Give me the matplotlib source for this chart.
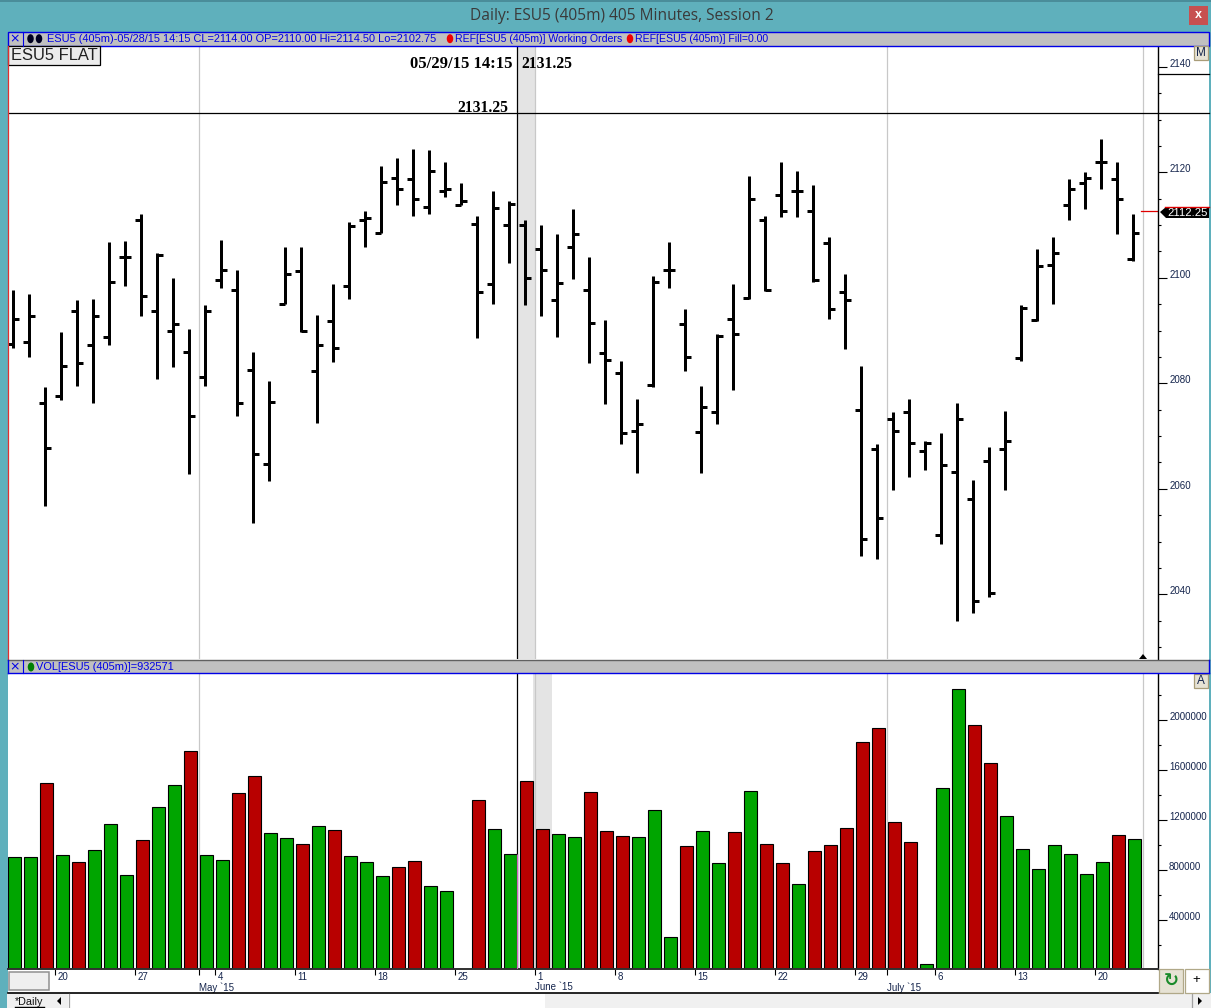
import matplotlib
matplotlib.use("Agg")
import matplotlib.pyplot as plt
from matplotlib.patches import Rectangle, Polygon, Ellipse
from matplotlib.ticker import MultipleLocator

opens = [2087.5, 2087.75, 2076.25, 2077.5, 2093.75, 2087.25, 2088.75, 2104, 2111, 2093.75, 2090, 2086, 2081.25, 2099.5, 2097.75, 2082.5, 2064.75, 2095, 2101.25, 2082.25, 2091.75, 2098.5, 2111, 2108.5, 2119,
         2118.75, 2113.5, 2116.5, 2113.75, 2110.25, 2098.75, 2110, 2110, 2105.5, 2095.75, 2105.75, 2097.75, 2085.75, 2082, 2071, 2079.75, 2101.5, 2091.25, 2070.75, 2074.5, 2092.25, 2096.25, 2111, 2115.75, 2116.5,
         2112.75, 2106.5, 2097.25, 2075, 2067.5, 2073.25, 2074.5, 2067.25, 2051.25, 2063.25, 2058, 2065.25, 2067.5, 2084.75, 2092, 2102.5, 2113.75, 2118, 2122, 2118.75, 2103.5]
highs = [2097.75, 2097, 2079.25, 2089.75, 2095.75, 2096, 2106.75, 2107, 2112, 2104.75, 2100, 2090.25, 2094.75, 2107.25, 2101.5, 2086, 2080.5, 2105.75, 2105.75, 2093, 2098.75, 2110.5, 2112.75, 2121.25, 2122.75,
         2124.5, 2124.25, 2122, 2118, 2111.75, 2116.5, 2114.5, 2111, 2110, 2108.25, 2113, 2104, 2092, 2084.25, 2077, 2100.25, 2106.75, 2094, 2079.5, 2089.25, 2098.75, 2119.25, 2111.75, 2122, 2120.25,
         2117.5, 2107.75, 2100.75, 2083.25, 2068.5, 2074.5, 2077, 2069, 2070.5, 2076.25, 2061.75, 2068, 2074.75, 2094.75, 2105.5, 2107.75, 2118.75, 2120, 2126.25, 2122, 2112]
lows = [2086.75, 2085, 2056.75, 2076.75, 2079.5, 2076.25, 2087.25, 2098.5, 2092.75, 2080.75, 2083, 2062.75, 2079.5, 2098, 2073.75, 2053.5, 2061.5, 2095, 2089.75, 2072.5, 2084, 2096, 2105.75, 2108.5, 2113.75,
        2111.75, 2112, 2115.25, 2113.75, 2088.5, 2095, 2102.75, 2094.75, 2092.75, 2088.75, 2099.75, 2083.75, 2076, 2068.5, 2063, 2079.25, 2098, 2082.25, 2063, 2072.25, 2078.75, 2096, 2097.5, 2111.5, 2111.5,
        2099.25, 2092.25, 2086.5, 2047.25, 2046.75, 2059.75, 2062.25, 2063.5, 2049.5, 2035, 2036.5, 2039.5, 2059.75, 2084.25, 2091.75, 2095, 2111, 2113, 2116.75, 2108.25, 2103.25]
closes = [2092.25, 2092.75, 2067.75, 2083.25, 2083.75, 2092.75, 2099.25, 2104, 2096.5, 2104.25, 2091.25, 2073.75, 2093.75, 2101.5, 2076.25, 2066.5, 2076.5, 2100.75, 2090, 2087.25, 2086.75, 2109.75, 2111.25, 2118.25, 2116.75,
          2115, 2120.25, 2116.75, 2114.5, 2097.25, 2113.25, 2114, 2100, 2101.5, 2099, 2108.25, 2091.5, 2084.5, 2070.5, 2072.25, 2099.25, 2101.5, 2085, 2075.5, 2089, 2089.25, 2115, 2097.75, 2112.75, 2116.5,
          2099.5, 2094, 2095.75, 2050.5, 2054.5, 2071, 2068.75, 2068.75, 2064.5, 2073.25, 2038.75, 2040.25, 2069, 2094.25, 2102.25, 2104.75, 2116.75, 2119, 2122, 2115, 2108.5]
volumes = [904000, 904000, 1496000, 920000, 864000, 960000, 1168000, 760000, 1040000, 1304000, 1480000, 1752000, 920000, 880000, 1416000, 1552000, 1096000, 1056000, 1008000, 1152000, 1120000, 912000, 864000, 752000, 824000,
           872000, 672000, 632000, 0, 1360000, 1128000, 932571, 1512000, 1128000, 1088000, 1064000, 1424000, 1112000, 1072000, 1064000, 1280000, 264000, 992000, 1112000, 856000, 1104000, 1432000, 1008000, 856000, 688000,
           952000, 1000000, 1136000, 1824000, 1936000, 1184000, 1024000, 48000, 1456000, 2248000, 1960000, 1656000, 1232000, 968000, 808000, 1000000, 928000, 768000, 864000, 1080000, 1048000]

# bar index of each labelled date tick
date_ticks = [3, 8, 13, 18, 23, 28, 33, 38, 43, 48, 53, 58, 63, 68]
date_labels = ["20", "27", "4", "11", "18", "25", "1", "8", "15", "22", "29", "6", "13", "20"]
month_starts = [12, 33, 55]
month_labels = ["May `15", "June `15", "July `15"]
last_session = 71

W, H = 1211, 1008
TEAL = "#5fb0bc"
GREEN = "#00a500"
RED = "#b80000"
BLUE = "#0000e6"
STRIP = "#c0c0c0"
LABEL = "#14244c"
FONT = "Liberation Sans"
idx = list(range(len(opens)))
TICK_SHIFT = 0.37  # date boundaries sit just left of a bar
CURSOR = 31.45


def px_axes(left, top, right, bottom, **kw):
    return fig.add_axes([left / W, 1 - bottom / H, (right - left) / W, (bottom - top) / H], **kw)


fig = plt.figure(figsize=(W / 100, H / 100), dpi=100, facecolor=TEAL)

# background chrome in pixel coordinates
base = fig.add_axes([0, 0, 1, 1], zorder=0)
base.set_xlim(0, W)
base.set_ylim(H, 0)
base.axis("off")
base.add_patch(Rectangle((0, 0), W, 1.5, fc="#4a8d9a", lw=0))
base.add_patch(Rectangle((8, 46), 1201, 947, fc="white", lw=0))
base.add_patch(Rectangle((7, 993), 1204, 15, fc="#f0f0f0", lw=0))

# price panel
ax = px_axes(8, 46, 1158, 659, zorder=1)
ax.set_xlim(-0.33, 71.54)
ax.set_ylim(2027.73, 2143.94)
for s in ["top", "left", "bottom"]:
    ax.spines[s].set_visible(False)
ax.spines["right"].set_linewidth(1.0)
ax.set_xticks([])
ax.yaxis.tick_right()
ax.yaxis.set_major_locator(MultipleLocator(20))
ax.yaxis.set_minor_locator(MultipleLocator(5))
ax.tick_params(axis="y", which="major", length=6.5, width=0.8, pad=1.5, labelsize=7, labelcolor=LABEL)
ax.tick_params(axis="y", which="minor", length=2.2, width=0.8)
for lab in ax.get_yticklabels():
    lab.set_va("baseline")
    lab.set_fontfamily(FONT)

ax.axvspan(CURSOR, 33 - TICK_SHIFT, color="#e4e4e4", lw=0, zorder=0)
for m in month_starts + [last_session]:
    ax.axvline(m - TICK_SHIFT, color="#c8c8c8", lw=0.9, zorder=1)
ax.axvline(CURSOR, color="black", lw=0.9, zorder=1)
ax.axhline(2131.25, color="black", lw=0.9, zorder=1)

ax.vlines(idx, lows, highs, color="black", lw=2.16, capstyle="butt", zorder=3)
ax.hlines(opens, [i - 0.38 for i in idx], idx, color="black", lw=2.16, capstyle="butt", zorder=3)
ax.hlines(closes, idx, [i + 0.36 for i in idx], color="black", lw=2.16, capstyle="butt", zorder=3)
ax.axhline(2112.6, xmin=0.9855, color="#e00000", lw=0.9, zorder=2)

# volume panel
vol = px_axes(8, 674, 1158, 969, zorder=1)
vol.set_xlim(-0.33, 71.54)
vol.set_ylim(10400, 2370400)
for s in ["top", "left"]:
    vol.spines[s].set_visible(False)
vol.spines["right"].set_linewidth(1.0)
vol.spines["bottom"].set_linewidth(1.4)
vol.spines["bottom"].set_color("#303030")
vol.yaxis.tick_right()
vol.yaxis.set_major_locator(MultipleLocator(400000))
vol.yaxis.set_minor_locator(MultipleLocator(200000))
vol.tick_params(axis="y", which="major", length=6.5, width=0.8, pad=1.5, labelsize=7, labelcolor=LABEL)
vol.tick_params(axis="y", which="minor", length=2.2, width=0.8)
vol.ticklabel_format(axis="y", style="plain")
vol.set_yticks([400000, 800000, 1200000, 1600000, 2000000])
vol.set_yticklabels(["400000", "800000", "1200000", "1600000", "2000000"], va="baseline", fontfamily=FONT)

vol.axvspan(32.5, 33.67, color="#e4e4e4", lw=0, zorder=0)
for m in month_starts + [last_session]:
    vol.axvline(m - TICK_SHIFT, color="#c8c8c8", lw=0.9, zorder=1)
vol.axvline(CURSOR, color="black", lw=0.9, zorder=1)
colors = [GREEN if c >= o else RED for o, c in zip(opens, closes)]
vol.bar([i + 0.07 for i in idx], volumes, width=0.84, color=colors, edgecolor="black", lw=0.8, zorder=2)
vol.vlines(CURSOR, 0, volumes[31], color="#d060c0", lw=0.8, zorder=3)

tick_pos = [t - TICK_SHIFT for t in date_ticks + month_starts[:1] + month_starts[2:]]
vol.set_xticks(tick_pos)
vol.set_xticklabels([])
vol.tick_params(axis="x", length=4.3, width=0.8, direction="out")
for t, lab in zip(date_ticks, date_labels):
    vol.annotate(lab, (t - TICK_SHIFT, 0), xycoords=("data", "axes fraction"), xytext=(1.4, -2.4), textcoords="offset points",
                 va="top", ha="left", fontsize=7, color=LABEL, family=FONT)
for m, lab in zip(month_starts, month_labels):
    vol.annotate(lab, (m - TICK_SHIFT, 0), xycoords=("data", "axes fraction"), xytext=(0, -9.6), textcoords="offset points",
                 va="top", ha="left", fontsize=7, color=LABEL, family=FONT)

# window chrome and headers on top
top = fig.add_axes([0, 0, 1, 1], zorder=2)
top.set_xlim(0, W)
top.set_ylim(H, 0)
top.axis("off")
top.patch.set_alpha(0)

top.text(622, 15.5, "Daily: ESU5 (405m) 405 Minutes, Session 2", ha="center", va="center", fontsize=11.2,
         color="#3a3a3a", family="Open Sans")
top.add_patch(Rectangle((1189, 6), 18.5, 19, fc="#c75050", lw=0))
top.text(1198.2, 15.5, "x", ha="center", va="center", color="white", fontsize=9, fontweight="bold", family=FONT)
top.plot([7.5, 7.5], [46, 660], color="#e03030", lw=0.9)

# price header strip
top.add_patch(Rectangle((8, 32), 1201, 13.5, fc=STRIP, ec=BLUE, lw=1))
top.plot([22.5, 22.5], [32, 45.5], color=BLUE, lw=0.8)
top.text(15, 38.7, "\u00d7", ha="center", va="center", color=BLUE, fontsize=9, family="DejaVu Sans")
top.add_patch(Ellipse((30.5, 38.7), 6.5, 9, fc="#000020", lw=0))
top.add_patch(Ellipse((39, 38.7), 6.5, 9, fc="#000020", lw=0))
top.text(47, 38.9, "ESU5 (405m)-05/28/15 14:15 CL=2114.00 OP=2110.00 Hi=2114.50 Lo=2102.75", va="center", color=BLUE,
         fontsize=7.96, family=FONT)
top.add_patch(Ellipse((450, 38.7), 6.5, 9, fc="#f00000", lw=0))
top.text(455, 38.9, "REF[ESU5 (405m)] Working Orders", va="center", color=BLUE, fontsize=7.55, family=FONT)
top.add_patch(Ellipse((630, 38.7), 6.5, 9, fc="#f00000", lw=0))
top.text(635, 38.9, "REF[ESU5 (405m)] Fill=0.00", va="center", color=BLUE, fontsize=7.55, family=FONT)

top.add_patch(Rectangle((8, 46), 92, 18.5, fc="#ececec", ec="black", lw=0.9))
top.text(11, 55.5, "ESU5 FLAT", va="center", fontsize=11.9, color="#202020", family=FONT)
top.text(513, 64, "05/29/15 14:15", ha="right", va="center", fontsize=12, fontweight="bold", family="Liberation Serif")
top.text(521, 64, "2131.25", ha="left", va="center", fontsize=11.3, fontweight="bold", family="Liberation Serif")
top.text(508, 107.5, "2131.25", ha="right", va="center", fontsize=11.3, fontweight="bold", family="Liberation Serif")
top.plot([1158, 1209], [74, 74], color="black", lw=0.9)
top.plot([1158, 1209], [113, 113], color="black", lw=0.9)

for x0, y0, lab in [(1194, 46, "M"), (1194, 674, "A")]:
    top.add_patch(Rectangle((x0, y0), 13.5, 13.5, fc="#e6e2d4", ec="#a89c78", lw=0.9))
    top.text(x0 + 6.7, y0 + 7, lab, ha="center", va="center", fontsize=8.5, color="#14244c", family=FONT)

# last price flag
top.add_patch(Polygon([(1160, 212), (1166, 207), (1209, 207), (1209, 218), (1166, 218)], fc="black", lw=0))
top.plot([1165, 1209], [206.7, 206.7], color="#e00000", lw=1)
top.text(1208, 212.9, "2112.25", ha="right", va="center", fontsize=8.2, color="white", family=FONT)
top.add_patch(Polygon([(1139, 659), (1143, 654), (1147, 659)], fc="black", lw=0))

# volume header strip
top.add_patch(Rectangle((8, 660), 1201, 13, fc=STRIP, lw=0))
top.plot([8, 1209], [659.7, 659.7], color="#606060", lw=1)
top.plot([8, 1209], [673.3, 673.3], color=BLUE, lw=1)
top.plot([8, 8], [660, 673], color=BLUE, lw=1)
top.plot([1208.7, 1208.7], [660, 673], color=BLUE, lw=1)
top.plot([22.5, 22.5], [660, 673], color=BLUE, lw=0.8)
top.text(15, 666.7, "\u00d7", ha="center", va="center", color=BLUE, fontsize=9, family="DejaVu Sans")
top.add_patch(Ellipse((31, 667), 6.5, 9, fc="#008000", lw=0))
top.text(36, 667, "VOL[ESU5 (405m)]=932571", va="center", color=BLUE, fontsize=7.9, family=FONT)

# bottom of the window
top.plot([8, 1158], [993.3, 993.3], color="black", lw=1.2)
top.add_patch(Rectangle((9, 971.5), 40, 18.5, fc="#efefef", ec="#909090", lw=1.1))
top.add_patch(Rectangle((1159, 968.5), 24, 24.5, fc="#e6e2d4", ec="#b0a888", lw=0.9))
top.add_patch(Rectangle((1185, 968.5), 23.5, 24.5, fc="white", ec="#b0a888", lw=0.9))
top.text(1171, 981, "\u21bb", ha="center", va="center", fontsize=13, color="#1a8a2a", fontweight="bold", family="DejaVu Sans")
top.text(1196.5, 980.5, "+", ha="center", va="center", fontsize=9.5, color="black", family=FONT)
top.text(15, 1002, "*Daily", va="center", fontsize=7.8, color="#101010", family=FONT)
top.plot([15, 44], [1006.5, 1006.5], color="black", lw=1)
top.add_patch(Rectangle((68, 994), 477, 14, fc="white", lw=0))
top.plot([68.5, 68.5], [994, 1008], color="#a0a0a0", lw=0.9)
top.add_patch(Polygon([(57, 1001), (61, 997), (61, 1005)], fc="black", lw=0))
top.plot([1191.5, 1191.5], [994, 1008], color="#a0a0a0", lw=0.9)
top.add_patch(Polygon([(1202, 1001), (1198, 997), (1198, 1005)], fc="black", lw=0))

fig.savefig("out.png", dpi=100, facecolor=fig.get_facecolor())
